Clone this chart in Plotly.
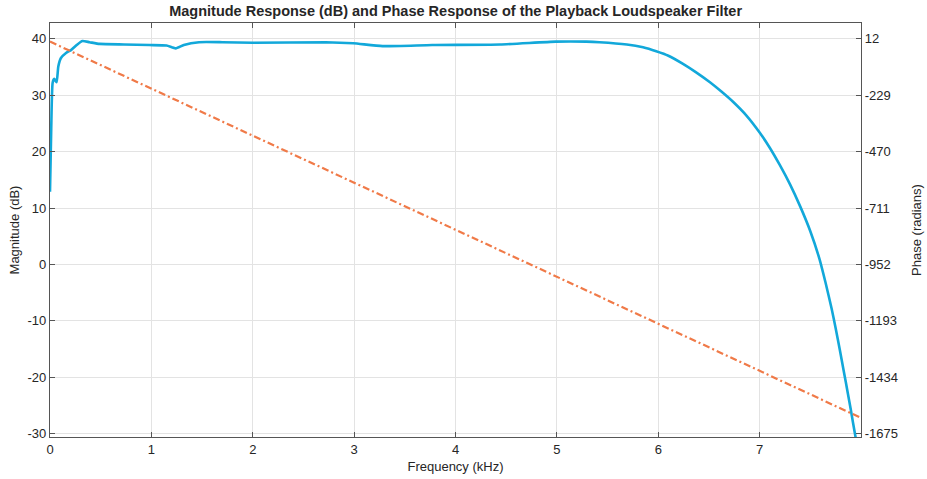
import plotly.graph_objects as go

# Magnitude response (dB)
freq_khz = [0, 0.012, 0.026, 0.042, 0.065, 0.082, 0.108, 0.158, 0.207, 0.27, 0.32,
            0.39, 0.49, 0.73, 0.98, 1.15, 1.24, 1.32, 1.47, 1.7, 2.0, 2.72, 2.99,
            3.28, 3.77, 4.44, 4.99, 5.29, 5.42, 5.69, 5.85, 5.98, 6.1, 6.24, 6.37,
            6.51, 6.62, 6.74, 6.87, 7.0, 7.1, 7.2, 7.3, 7.4, 7.5, 7.59, 7.65, 7.71,
            7.75, 7.79, 7.83, 7.87, 7.9, 7.92, 7.96]
mag_db = [12.9, 24.0, 32.2, 32.9, 32.3, 35.1, 36.6, 37.5, 38.0, 39.0, 39.6,
          39.4, 39.1, 39.0, 38.9, 38.8, 38.3, 38.9, 39.4, 39.4, 39.3, 39.4, 39.2,
          38.7, 38.9, 39.0, 39.5, 39.5, 39.4, 39.0, 38.5, 37.8, 37.0, 35.6, 34.1,
          32.3, 30.7, 28.8, 26.4, 23.4, 20.7, 17.6, 14.2, 10.3, 5.9, 1.0, -3.2, -7.8,
          -11.3, -15.0, -18.9, -22.8, -25.8, -27.9, -32.0]

# Phase response (radians)
phase_freq_khz = [0, 2, 4, 6, 8]
phase_rad = [0, -402, -803, -1205, -1607]

# Axis ticks
x_ticks = [0, 1, 2, 3, 4, 5, 6, 7]
left_ticks = [-30, -20, -10, 0, 10, 20, 30, 40]
right_ticks = [12, -229, -470, -711, -952, -1193, -1434, -1675]

left_range = [-30.57, 42.8]
# right axis aligned so that 40 dB <-> 12 rad and -30 dB <-> -1675 rad
def to_right(v):
    return 12 + (v - 40) * (12 - (-1675)) / 70.0
right_range = [to_right(left_range[0]), to_right(left_range[1])]

BLUE = "#12A8DA"
ORANGE = "#F07A48"
AX = "#555555"
TXT = "#262626"
FONT = "Liberation Sans, Arial, sans-serif"

fig = go.Figure()
fig.add_trace(go.Scatter(x=freq_khz, y=mag_db, mode="lines",
                         line=dict(color=BLUE, width=2.6, shape="spline", smoothing=0.5),
                         yaxis="y", showlegend=False))
fig.add_trace(go.Scatter(x=phase_freq_khz, y=phase_rad, mode="lines",
                         line=dict(color=ORANGE, width=2.2, dash="7px,3px,2px,3px"),
                         yaxis="y2", showlegend=False))

fig.update_layout(
    width=927, height=479,
    margin=dict(l=50, r=66, t=23, b=42),
    paper_bgcolor="white", plot_bgcolor="white",
    font=dict(family=FONT, size=13, color=TXT),
    title=dict(text="<b>Magnitude Response (dB) and Phase Response of the Playback Loudspeaker Filter</b>",
               x=0.4915, xanchor="center", y=0.977, yanchor="middle",
               font=dict(size=14.5, color=TXT)),
    xaxis=dict(range=[0, 8], tickvals=x_ticks, ticktext=[str(v) for v in x_ticks],
               ticks="inside", ticklen=5, automargin=False,
               tickcolor=AX, showline=True, linecolor=AX, linewidth=1.2,
               mirror="ticks", showgrid=True, gridcolor="#E3E3E3", zeroline=False,
               title=dict(text="Frequency (kHz)", standoff=6, font=dict(size=13)),
               tickfont=dict(size=13, color=TXT)),
    yaxis=dict(range=left_range, tickvals=left_ticks, automargin=False,
               ticktext=[str(v) for v in left_ticks], ticks="inside", ticklen=5,
               tickcolor=AX, showline=True, linecolor=AX, linewidth=1.2,
               showgrid=True, gridcolor="#E3E3E3", zeroline=False,
               title=dict(text="Magnitude (dB)", standoff=4, font=dict(size=13)),
               tickfont=dict(size=13, color=TXT)),
    yaxis2=dict(range=right_range, tickvals=right_ticks, automargin=False,
                ticktext=[str(v) for v in right_ticks], ticks="inside", ticklen=5,
                tickcolor=AX, showline=True, linecolor=AX, linewidth=1.2,
                overlaying="y", side="right", showgrid=False, zeroline=False,
                title=dict(text="Phase (radians)", standoff=14, font=dict(size=13)),
                tickfont=dict(size=13, color=TXT)),
)

fig.write_html("out.html")
